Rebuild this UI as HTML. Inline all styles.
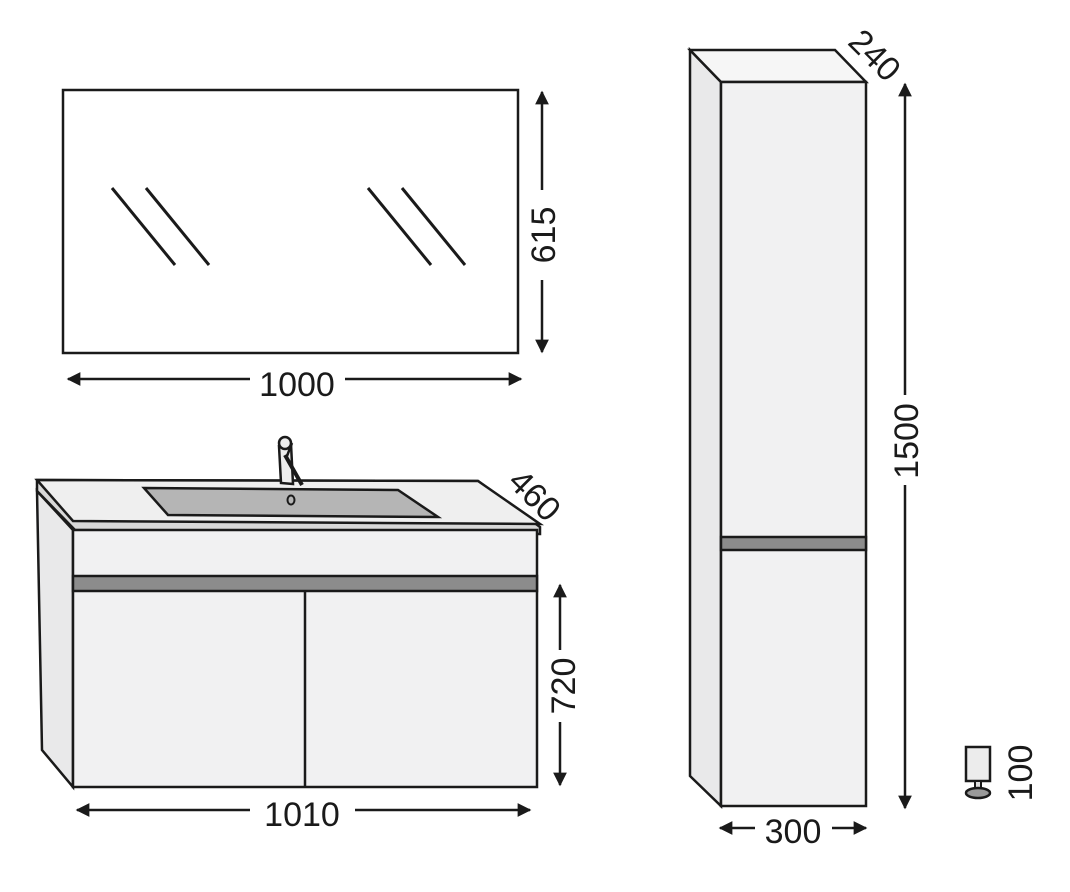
<!DOCTYPE html>
<html><head><style>html,body{margin:0;padding:0;background:#fff}svg{display:block}</style></head>
<body>
<svg width="1070" height="892" viewBox="0 0 1070 892" xmlns="http://www.w3.org/2000/svg" font-family="Liberation Sans, sans-serif" font-size="34" fill="none" stroke="#1a1a1a" stroke-width="2.5">
<defs><marker id="a" viewBox="0 0 10 10" refX="9" refY="5" markerWidth="6" markerHeight="5.5" orient="auto-start-reverse"><path d="M0,0L10,5L0,10z" fill="#1a1a1a" stroke="none"/></marker></defs>
<!-- mirror -->
<rect x="63" y="90" width="455" height="263" fill="#fff"/>
<g stroke-width="3"><line x1="112" y1="188" x2="175" y2="265"/><line x1="146" y1="188" x2="209" y2="265"/><line x1="368" y1="188" x2="431" y2="265"/><line x1="402" y1="188" x2="465" y2="265"/></g>
<line x1="542" y1="92" x2="542" y2="190" marker-start="url(#a)"/><line x1="542" y1="280" x2="542" y2="352" marker-end="url(#a)"/>
<text x="0" y="0" transform="translate(555,235) rotate(-90)" text-anchor="middle" fill="#1a1a1a" stroke="none">615</text>
<line x1="68" y1="379" x2="250" y2="379" marker-start="url(#a)"/><line x1="345" y1="379" x2="521" y2="379" marker-end="url(#a)"/>
<text x="297" y="396" text-anchor="middle" fill="#1a1a1a" stroke="none">1000</text>
<!-- vanity -->
<polygon points="37,491 73,530 73,787 42,750" fill="#e9e9ea"/>
<polygon points="37,480 478,481 540,527 540,534 75,530 37,491" fill="#d8d8d8"/>
<polygon points="37,480 478,481 540,524 73,521" fill="#efefef"/>
<rect x="73" y="530" width="464" height="257" fill="#f1f1f2"/>
<rect x="73" y="576" width="464" height="15" fill="#8c8c8c"/>
<line x1="305" y1="591" x2="305" y2="787"/>
<polygon points="144,488 398,490 438,517 168,515" fill="#b5b5b5"/>
<ellipse cx="291" cy="500" rx="3.5" ry="4.5" stroke-width="2"/>
<path d="M279,446 L281,483 L293,484 L291,444 Z" fill="#eee"/>
<ellipse cx="285" cy="443" rx="6" ry="6" fill="#eee"/>
<line x1="292" y1="443" x2="287" y2="456"/><line x1="285" y1="455" x2="302" y2="485" stroke-width="4"/>
<line x1="560" y1="585" x2="560" y2="650" marker-start="url(#a)"/><line x1="560" y1="722" x2="560" y2="785" marker-end="url(#a)"/>
<text transform="translate(575,686) rotate(-90)" text-anchor="middle" fill="#1a1a1a" stroke="none">720</text>
<text transform="translate(535,495) rotate(45)" text-anchor="middle" fill="#1a1a1a" stroke="none" dy="12">460</text>
<line x1="77" y1="810" x2="250" y2="810" marker-start="url(#a)"/><line x1="355" y1="810" x2="530" y2="810" marker-end="url(#a)"/>
<text x="302" y="826" text-anchor="middle" fill="#1a1a1a" stroke="none">1010</text>
<!-- tall cabinet -->
<polygon points="690,50 721,82 721,806 690,776" fill="#e9e9ea"/>
<polygon points="690,50 835,50 866,82 721,82" fill="#f6f6f6"/>
<rect x="721" y="82" width="145" height="724" fill="#f1f1f2"/>
<rect x="721" y="537" width="145" height="13" fill="#8c8c8c"/>
<text transform="translate(875,55) rotate(45)" text-anchor="middle" fill="#1a1a1a" stroke="none" dy="12">240</text>
<line x1="905" y1="84" x2="905" y2="395" marker-start="url(#a)"/><line x1="905" y1="485" x2="905" y2="808" marker-end="url(#a)"/>
<text transform="translate(918,441) rotate(-90)" text-anchor="middle" fill="#1a1a1a" stroke="none">1500</text>
<line x1="720" y1="828" x2="755" y2="828" marker-start="url(#a)"/><line x1="832" y1="828" x2="866" y2="828" marker-end="url(#a)"/>
<text x="793" y="843" text-anchor="middle" fill="#1a1a1a" stroke="none">300</text>
<!-- foot -->
<rect x="966" y="747" width="24" height="34" fill="#ececec"/>
<rect x="975" y="781" width="6" height="8" fill="#ddd" stroke-width="2"/>
<ellipse cx="978" cy="793" rx="12" ry="5" fill="#999"/>
<text transform="translate(1032,773) rotate(-90)" text-anchor="middle" fill="#1a1a1a" stroke="none">100</text>
</svg>
</body></html>
